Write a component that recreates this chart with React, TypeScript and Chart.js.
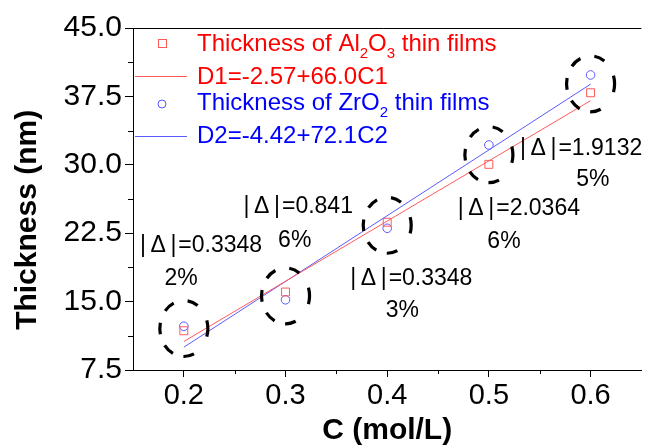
import React, { useEffect, useRef } from 'react';
import { Chart, registerables } from 'chart.js';

Chart.register(...registerables);

// ---- data ----
const concentrations = [0.2, 0.3, 0.4, 0.5, 0.6];
const thicknessAl2O3 = [11.8, 16.05, 23.7, 30.05, 37.9];
const thicknessZrO2 = [12.3, 15.2, 23.04, 32.17, 39.85];
const fitX = [0.2, 0.6];
const fitAl2O3 = [10.63, 37.03]; // D1 = -2.57 + 66.0 C1
const fitZrO2 = [10.0, 38.84]; // D2 = -4.42 + 72.1 C2
const xTicks = [0.2, 0.3, 0.4, 0.5, 0.6];
const xMinorTicks = [0.25, 0.35, 0.45, 0.55];
const yTicks = [7.5, 15, 22.5, 30, 37.5, 45];
const yMinorTicks = [11.25, 18.75, 26.25, 33.75, 41.25];
const deltaValues = ['0.3348', '0.841', '0.3348', '2.0364', '1.9132'];
const percentValues = ['2%', '6%', '3%', '6%', '5%'];
// label anchors in data space (C, thickness)
const deltaAnchorX = [0.1568, 0.2587, 0.3636, 0.4694, 0.5306];
const deltaAnchorY = [20.44, 24.71, 16.82, 24.5, 31.07];
const percentAnchorX = [0.181, 0.2927, 0.3985, 0.4985, 0.5859];
const percentAnchorY = [16.8, 21.02, 13.34, 20.88, 27.68];

const FONT = '"Liberation Sans", Arial, Helvetica, sans-serif';
const RED = '#ff0000';
const BLUE = '#0000ff';
const RED_LINE = '#ff5a5a';
const BLUE_LINE = '#5a5aff';

type Part = { t: string; sub?: boolean };

function drawRich(ctx: CanvasRenderingContext2D, parts: Part[], x: number, y: number, color: string) {
  let cx = x;
  ctx.fillStyle = color;
  ctx.textAlign = 'left';
  ctx.textBaseline = 'alphabetic';
  for (const p of parts) {
    if (p.sub) {
      ctx.font = `15px ${FONT}`;
      ctx.fillText(p.t, cx, y + 7);
    } else {
      ctx.font = `24px ${FONT}`;
      ctx.fillText(p.t, cx, y);
    }
    cx += ctx.measureText(p.t).width;
  }
}

const decorPlugin = {
  id: 'decor',
  afterDatasetsDraw(chart: any) {
    const { ctx, chartArea, scales } = chart;
    const xs = scales.x;
    const ys = scales.y;
    ctx.save();

    // top frame line
    ctx.strokeStyle = '#000';
    ctx.lineWidth = 1;
    ctx.beginPath();
    ctx.moveTo(chartArea.left - 8, Math.round(chartArea.top) + 0.5);
    ctx.lineTo(chartArea.right, Math.round(chartArea.top) + 0.5);
    ctx.stroke();

    // minor ticks
    ctx.beginPath();
    xMinorTicks.forEach((v) => {
      const px = Math.round(xs.getPixelForValue(v)) + 0.5;
      ctx.moveTo(px, chartArea.bottom);
      ctx.lineTo(px, chartArea.bottom + 4);
    });
    yMinorTicks.forEach((v) => {
      const py = Math.round(ys.getPixelForValue(v)) + 0.5;
      ctx.moveTo(chartArea.left, py);
      ctx.lineTo(chartArea.left - 5, py);
    });
    ctx.stroke();

    // dashed rings around each pair of points
    const dashAngles = [0, 68, 128, 180, 230, 282];
    const dashHalf = [17, 13, 13, 12, 13, 13];
    ctx.lineWidth = 3.2;
    ctx.lineCap = 'butt';
    concentrations.forEach((c, i) => {
      const cx = xs.getPixelForValue(c);
      const cy = ys.getPixelForValue((thicknessAl2O3[i] + thicknessZrO2[i]) / 2);
      dashAngles.forEach((a, k) => {
        const h = dashHalf[k];
        ctx.beginPath();
        ctx.ellipse(cx, cy, 24, 28, 0, (-(a + h) * Math.PI) / 180, (-(a - h) * Math.PI) / 180);
        ctx.stroke();
      });
    });

    // |Δ| annotations
    ctx.fillStyle = '#000';
    ctx.font = `23px ${FONT}`;
    ctx.textAlign = 'left';
    ctx.textBaseline = 'alphabetic';
    deltaValues.forEach((d, i) => {
      ctx.fillText(`|\u2009\u0394\u2009|\u200a=${d}`, xs.getPixelForValue(deltaAnchorX[i]), ys.getPixelForValue(deltaAnchorY[i]));
      ctx.fillText(percentValues[i], xs.getPixelForValue(percentAnchorX[i]), ys.getPixelForValue(percentAnchorY[i]));
    });

    // legend
    const L = chartArea.left;
    const T = chartArea.top;
    ctx.lineWidth = 1;
    ctx.strokeStyle = RED_LINE;
    ctx.strokeRect(L + 25.5, T + 11.5, 8, 8);
    drawRich(ctx, [{ t: 'Thickness of Al' }, { t: '2', sub: true }, { t: 'O' }, { t: '3', sub: true }, { t: ' thin films' }], L + 64, T + 23, RED);
    ctx.strokeStyle = RED_LINE;
    ctx.beginPath();
    ctx.moveTo(L + 2, T + 48.5);
    ctx.lineTo(L + 54, T + 48.5);
    ctx.stroke();
    drawRich(ctx, [{ t: 'D1=-2.57+66.0C1' }], L + 64, T + 56, RED);
    ctx.strokeStyle = BLUE_LINE;
    ctx.beginPath();
    ctx.arc(L + 29, T + 76, 4, 0, Math.PI * 2);
    ctx.stroke();
    drawRich(ctx, [{ t: 'Thickness of ZrO' }, { t: '2', sub: true }, { t: ' thin films' }], L + 64, T + 82, BLUE);
    ctx.beginPath();
    ctx.moveTo(L + 2, T + 108.5);
    ctx.lineTo(L + 54, T + 108.5);
    ctx.stroke();
    drawRich(ctx, [{ t: 'D2=-4.42+72.1C2' }], L + 64, T + 115, BLUE);

    ctx.restore();
  },
};

export default function App() {
  const canvasRef = useRef<HTMLCanvasElement | null>(null);

  useEffect(() => {
    document.body.style.margin = '0';
    const canvas = canvasRef.current;
    if (!canvas) return;

    const chart = new Chart(canvas, {
      type: 'scatter',
      data: {
        datasets: [
          {
            label: 'D1',
            type: 'line',
            data: fitX.map((x, i) => ({ x, y: fitAl2O3[i] })),
            borderColor: RED_LINE,
            borderWidth: 1,
            pointRadius: 0,
            fill: false,
          },
          {
            label: 'D2',
            type: 'line',
            data: fitX.map((x, i) => ({ x, y: fitZrO2[i] })),
            borderColor: BLUE_LINE,
            borderWidth: 1,
            pointRadius: 0,
            fill: false,
          },
          {
            label: 'Thickness of Al2O3 thin films',
            data: concentrations.map((x, i) => ({ x, y: thicknessAl2O3[i] })),
            pointStyle: 'rect',
            pointRadius: 5.6,
            borderColor: RED_LINE,
            backgroundColor: 'rgba(0,0,0,0)',
            borderWidth: 1,
          },
          {
            label: 'Thickness of ZrO2 thin films',
            data: concentrations.map((x, i) => ({ x, y: thicknessZrO2[i] })),
            pointStyle: 'circle',
            pointRadius: 4.3,
            borderColor: BLUE_LINE,
            backgroundColor: 'rgba(0,0,0,0)',
            borderWidth: 1,
          },
        ],
      },
      options: {
        responsive: false,
        animation: false,
        devicePixelRatio: 1,
        layout: { padding: { top: 28, right: 0, bottom: 0, left: 0 } },
        plugins: { legend: { display: false }, tooltip: { enabled: false } },
        scales: {
          x: {
            type: 'linear',
            min: 0.15,
            max: 0.65,
            afterBuildTicks: (s: any) => {
              s.ticks = xTicks.map((v) => ({ value: v }));
            },
            afterFit: (s: any) => {
              s.height = 76;
            },
            grid: { drawOnChartArea: false, drawTicks: true, tickLength: 7, color: '#000', tickColor: '#000' },
            border: { display: true, color: '#000', width: 1 },
            ticks: {
              color: '#000',
              padding: 2,
              maxRotation: 0,
              autoSkip: false,
              font: { family: FONT, size: 29 },
              callback: (v: any) => Number(v).toFixed(1),
            },
            title: {
              display: true,
              text: 'C (mol/L)',
              color: '#000',
              font: { family: FONT, size: 30, weight: 'bold', lineHeight: 1 },
              padding: { top: 0, bottom: 0 },
            },
          },
          y: {
            type: 'linear',
            min: 7.5,
            max: 45,
            afterBuildTicks: (s: any) => {
              s.ticks = yTicks.map((v) => ({ value: v }));
            },
            afterFit: (s: any) => {
              s.width = 133;
            },
            grid: { drawOnChartArea: false, drawTicks: true, tickLength: 8, color: '#000', tickColor: '#000' },
            border: { display: true, color: '#000', width: 1 },
            ticks: {
              color: '#000',
              padding: 3,
              autoSkip: false,
              font: { family: FONT, size: 30 },
              callback: (v: any) => Number(v).toFixed(1),
            },
            title: {
              display: true,
              text: 'Thickness (nm)     ',
              color: '#000',
              font: { family: FONT, size: 30, weight: 'bold', lineHeight: 1 },
              padding: { top: 13, bottom: 0 },
            },
          },
        },
      },
      plugins: [decorPlugin],
    } as any);

    return () => {
      chart.destroy();
    };
  }, []);

  return (
    <div style={{ width: 648, height: 446, background: '#fff' }}>
      <canvas ref={canvasRef} width={648} height={446} />
    </div>
  );
}
